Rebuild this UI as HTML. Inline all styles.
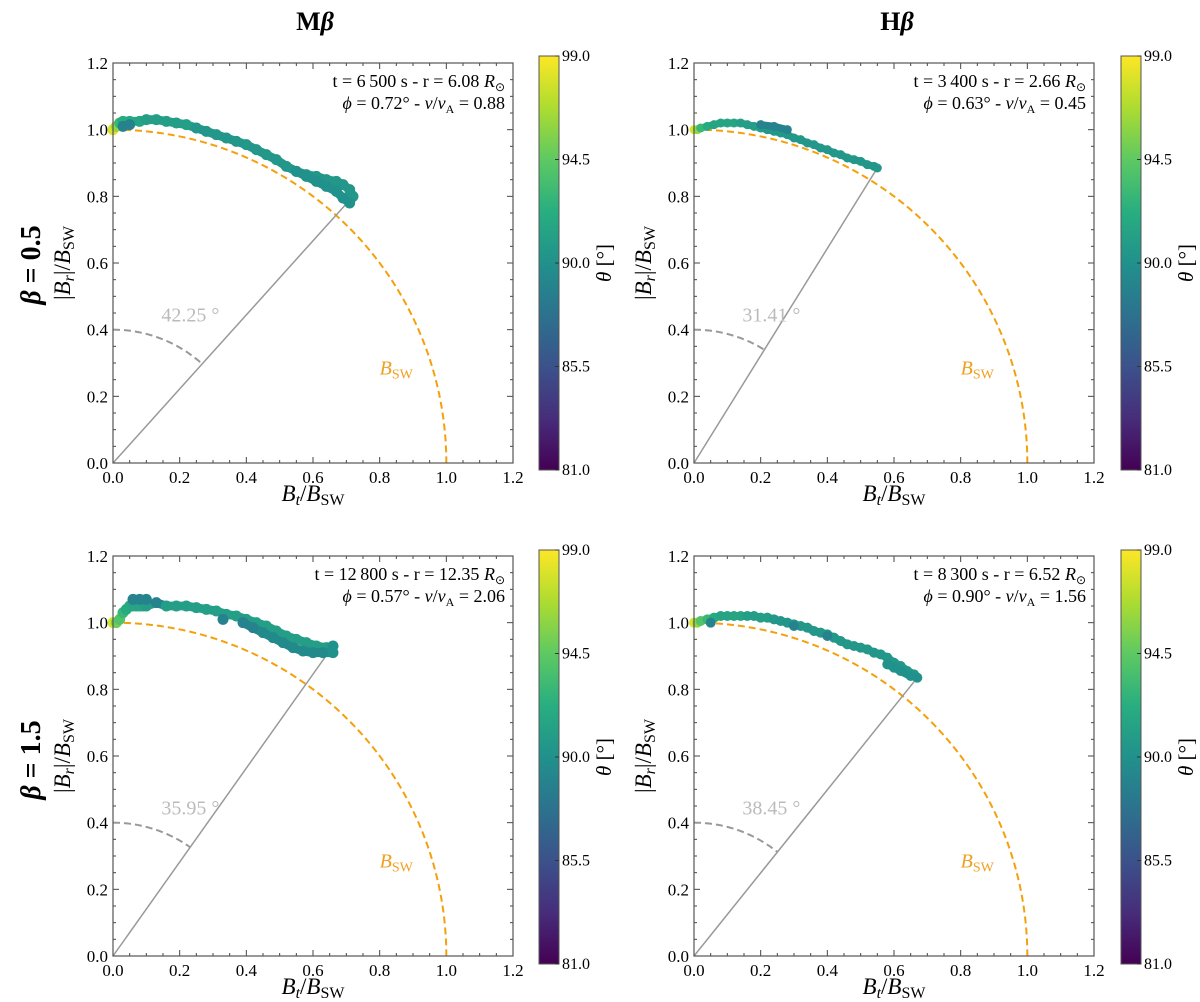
<!DOCTYPE html>
<html><head><meta charset="utf-8">
<style>
html,body{margin:0;padding:0;background:#fff;}
svg{display:block;font-family:"Liberation Serif",serif;}
</style></head>
<body>
<svg id="fig" width="1200" height="1002" viewBox="0 0 1200 1002">
<defs>
<linearGradient id="viridis" x1="0" y1="1" x2="0" y2="0">
<stop offset="0" stop-color="#440154"/><stop offset="0.125" stop-color="#472d7b"/>
<stop offset="0.25" stop-color="#3b528b"/><stop offset="0.375" stop-color="#2c728e"/>
<stop offset="0.5" stop-color="#21918c"/><stop offset="0.625" stop-color="#28ae80"/>
<stop offset="0.75" stop-color="#5ec962"/><stop offset="0.875" stop-color="#addc30"/>
<stop offset="1" stop-color="#fde725"/>
</linearGradient>
</defs>
<text x="315" y="30" text-anchor="middle" font-size="26" font-weight="bold">M<tspan font-style="italic">β</tspan></text>
<text x="897" y="30" text-anchor="middle" font-size="26" font-weight="bold">H<tspan font-style="italic">β</tspan></text>
<text transform="translate(40,265) rotate(-90)" text-anchor="middle" font-size="28" font-weight="bold"><tspan font-style="italic">β</tspan> = 0.5</text>
<text transform="translate(40,760) rotate(-90)" text-anchor="middle" font-size="28" font-weight="bold"><tspan font-style="italic">β</tspan> = 1.5</text>
</svg>
<script>
// Panel data (Bt/BSW, |Br|/BSW, theta)
const p1_bt=[0,0.01,0.02,0.03,0.05,0.08,0.1,0.13,0.16,0.19,0.22,0.25,0.28,0.31,0.34,0.37,0.4,0.43,0.46,0.49,0.52,0.55,0.58,0.61,0.64,0.67,0.69,0.71,0.72,0.71,0.69,0.67,0.64,0.61,0.58,0.55,0.03,0.05];
const p1_br=[1.0,1.01,1.02,1.025,1.025,1.025,1.03,1.03,1.025,1.02,1.015,1.005,0.995,0.985,0.975,0.965,0.955,0.94,0.925,0.91,0.89,0.875,0.865,0.86,0.85,0.845,0.835,0.82,0.8,0.78,0.795,0.815,0.83,0.845,0.86,0.875,1.01,1.015];
const p1_th=[98,96,93,92,92,91.5,91,91,91,91,91,90.5,90.5,90.5,90.5,90.5,90.5,90.5,90.5,90.5,90.5,90.5,90.5,90.5,90.5,90.5,90.5,90.5,90.5,90,90,90,90,90,90,90,89,89];
const p2_bt=[0,0.01,0.02,0.04,0.06,0.08,0.1,0.12,0.14,0.16,0.18,0.2,0.22,0.24,0.26,0.28,0.3,0.32,0.34,0.36,0.38,0.4,0.42,0.44,0.46,0.48,0.5,0.52,0.54,0.55,0.2,0.24,0.28];
const p2_br=[1.0,1.0,1.005,1.01,1.015,1.02,1.02,1.02,1.02,1.015,1.01,1.005,1.0,0.995,0.99,0.985,0.975,0.97,0.96,0.955,0.945,0.94,0.93,0.925,0.915,0.91,0.905,0.895,0.89,0.885,1.015,1.01,1.0];
const p2_th=[98,96,93,92,91.5,91.5,91.5,91.5,91,91,91,91,90.5,90.5,90.5,90.5,90.5,90.5,90.5,90.5,90.5,90.5,90.5,90.5,90.5,90.5,90.5,90.5,90.5,90.5,89,89,89];
const p3_bt=[0,0.01,0.02,0.03,0.04,0.05,0.06,0.07,0.08,0.09,0.1,0.13,0.16,0.19,0.22,0.25,0.28,0.31,0.34,0.37,0.4,0.43,0.46,0.49,0.52,0.55,0.58,0.61,0.64,0.66,0.66,0.63,0.6,0.57,0.54,0.51,0.48,0.45,0.42,0.39,0.33,0.06,0.08,0.1];
const p3_br=[1.0,1.0,1.01,1.03,1.04,1.05,1.05,1.05,1.05,1.05,1.05,1.06,1.05,1.05,1.05,1.045,1.04,1.035,1.025,1.02,1.01,1.0,0.99,0.975,0.96,0.95,0.94,0.93,0.925,0.93,0.91,0.91,0.91,0.915,0.925,0.94,0.955,0.97,0.985,1.0,1.01,1.07,1.07,1.07];
const p3_th=[98,95,94,93,92,92,91.5,91.5,91.5,91.5,91,89,91,91,91,91,91,91,91,91,91,91,91,91,91,91,91,91,91,90,90,89.5,89.5,89.5,89.5,89.5,89.5,89.5,89,89,89,89,89,89];
const p4_bt=[0,0.01,0.02,0.04,0.06,0.08,0.1,0.12,0.14,0.16,0.18,0.2,0.22,0.24,0.26,0.28,0.3,0.32,0.34,0.36,0.38,0.4,0.42,0.44,0.46,0.48,0.5,0.52,0.54,0.56,0.58,0.6,0.62,0.64,0.66,0.67,0.65,0.62,0.6,0.58,0.05,0.3,0.4];
const p4_br=[1.0,1.0,1.005,1.01,1.015,1.02,1.02,1.02,1.02,1.02,1.02,1.015,1.015,1.01,1.005,1.0,0.995,0.99,0.985,0.975,0.97,0.965,0.955,0.945,0.935,0.93,0.925,0.92,0.91,0.905,0.895,0.88,0.87,0.855,0.845,0.835,0.84,0.855,0.865,0.875,1.0,0.99,0.96];
const p4_th=[98,96,94,93,92,91.5,91.5,91.5,91.5,91,91,91,91,90.5,90.5,90.5,90.5,90.5,90.5,90.5,90.5,90.5,90.5,90.5,90.5,90.5,90.5,90.5,90.5,90.5,90.5,90.5,90.5,90.5,90.5,90,90,90,90,90,89,89,89];
const panelLabels=[
 ["t = 6\u2009500 s - r = 6.08 ","0.72","0.88","42.25 °"],
 ["t = 3\u2009400 s - r = 2.66 ","0.63","0.45","31.41 °"],
 ["t = 12\u2009800 s - r = 12.35 ","0.57","2.06","35.95 °"],
 ["t = 8\u2009300 s - r = 6.52 ","0.90","1.56","38.45 °"]];
const ticks=[0,0.2,0.4,0.6,0.8,1.0,1.2];
const cbTicks=[81.0,85.5,90.0,94.5,99.0];

const NS="http://www.w3.org/2000/svg";
const svg=document.getElementById('fig');
function el(tag,attrs,parent){const e=document.createElementNS(NS,tag);for(const k in attrs)e.setAttribute(k,attrs[k]);(parent||svg).appendChild(e);return e;}
const vir=["#440154","#472d7b","#3b528b","#2c728e","#21918c","#28ae80","#5ec962","#addc30","#fde725"];
function hex(c){return [1,3,5].map(i=>parseInt(c.substr(i,2),16));}
function cmap(t){let f=(t-81)/18;f=Math.max(0,Math.min(1,f))*8;const i=Math.min(7,Math.floor(f)),r=f-i;const a=hex(vir[i]),b=hex(vir[i+1]);return "rgb("+a.map((v,k)=>Math.round(v+(b[k]-v)*r)).join(",")+")";}

const panels=[
 {L:113,T:63,bt:p1_bt,br:p1_br,th:p1_th,cx:539,cy:56,ch:414,r:5.5,name:"m-beta-0.5"},
 {L:694,T:63,bt:p2_bt,br:p2_br,th:p2_th,cx:1121,cy:56,ch:414,r:4.5,name:"h-beta-0.5"},
 {L:113,T:556,bt:p3_bt,br:p3_br,th:p3_th,cx:539,cy:550,ch:414,r:5.5,name:"m-beta-1.5"},
 {L:694,T:556,bt:p4_bt,br:p4_br,th:p4_th,cx:1121,cy:550,ch:414,r:5,name:"h-beta-1.5"}];
const W=400;
panels.forEach((p,pi)=>{
 const g=el('g',{});
 
 
 const X=v=>p.L+v/1.2*W, Y=v=>p.T+W-v/1.2*W;
 for(let v=0;v<=1.2001;v+=0.05){
  const major=Math.abs(v/0.2-Math.round(v/0.2))<1e-6, len=major?6:3;
  el('line',{x1:X(v),y1:p.T+W,x2:X(v),y2:p.T+W-len,stroke:"#444","stroke-width":1},g);
  el('line',{x1:X(v),y1:p.T,x2:X(v),y2:p.T+len,stroke:"#444","stroke-width":1},g);
  el('line',{x1:p.L,y1:Y(v),x2:p.L+len,y2:Y(v),stroke:"#444","stroke-width":1},g);
  el('line',{x1:p.L+W,y1:Y(v),x2:p.L+W-len,y2:Y(v),stroke:"#444","stroke-width":1},g);
 }
 ticks.forEach(v=>{
  const tx=el('text',{x:X(v),y:p.T+W+20,"text-anchor":"middle","font-size":17},g);tx.textContent=v.toFixed(1);
  
  
  const ty=el('text',{x:p.L-5,y:Y(v)+6,"text-anchor":"end","font-size":17},g);ty.textContent=v.toFixed(1);
  
  
 });
 const xl=el('text',{x:p.L+200,y:p.T+W+38,"text-anchor":"middle","font-size":23},g);
 xl.innerHTML='<tspan font-style="italic">B<tspan font-size="16" dy="4">t</tspan></tspan><tspan dy="-4">/</tspan><tspan font-style="italic">B</tspan><tspan font-size="16" dy="4">SW</tspan>';
 
 
 const yl=el('text',{transform:`translate(${p.L-43},${p.T+200}) rotate(-90)`,"text-anchor":"middle","font-size":23},g);
 yl.innerHTML='|<tspan font-style="italic">B<tspan font-size="16" dy="4">r</tspan></tspan><tspan dy="-4">|/</tspan><tspan font-style="italic">B</tspan><tspan font-size="16" dy="4">SW</tspan>';
 
 
 let d="";for(let a=0;a<=90;a+=1){const rad=a*Math.PI/180;d+=(a?"L":"M")+X(Math.sin(rad))+","+Y(Math.cos(rad));}
 const c=el('path',{d:d,fill:"none",stroke:"#f5a00a","stroke-width":2,"stroke-dasharray":"7,4"},g);
 
 
 const bl=el('text',{x:X(0.8),y:Y(0.265),"font-size":20,fill:"#f0a020"},g);
 bl.innerHTML='<tspan font-style="italic">B</tspan><tspan font-size="14" dy="4">SW</tspan>';
 
 
 const n=p.bt.length;let ei=0;p.bt.forEach((v,i)=>{if(v>p.bt[ei])ei=i;});
 const ex=p.bt[ei],ey=p.br[ei];const ang=Math.atan2(ex,ey);
 const ln=el('line',{x1:X(0),y1:Y(0),x2:X(ex),y2:Y(ey),stroke:"#999","stroke-width":1.5},g);
 
 
 let d2="";for(let k=0;k<=30;k++){const a=ang*k/30;d2+=(k?"L":"M")+X(0.4*Math.sin(a))+","+Y(0.4*Math.cos(a));}
 const arc=el('path',{d:d2,fill:"none",stroke:"#999","stroke-width":2,"stroke-dasharray":"7,4"},g);
 
 
 const al=el('text',{x:X(0.145),y:Y(0.425),"font-size":20,fill:"#bbb"},g);al.textContent=panelLabels[pi][3];
 
 
 for(let i=0;i<n;i++){
  const pt=el('circle',{cx:X(p.bt[i]),cy:Y(p.br[i]),r:p.r,fill:cmap(p.th[i])},g);
  
  
  if(i<n-1&&Math.hypot(p.bt[i+1]-p.bt[i],p.br[i+1]-p.br[i])<0.06){
   const seg=el('line',{x1:X(p.bt[i]),y1:Y(p.br[i]),x2:X(p.bt[i+1]),y2:Y(p.br[i+1]),stroke:cmap(p.th[i]),"stroke-width":p.r*1.6,"stroke-linecap":"round"},g);
   
   
  }
 }
 el('rect',{x:p.L,y:p.T,width:W,height:W,fill:"none",stroke:"#555","stroke-width":1.2},g);
 const a1=el('text',{x:p.L+W-8,y:p.T+24,"text-anchor":"end","font-size":18},g);
 a1.innerHTML=panelLabels[pi][0]+'<tspan font-style="italic">R</tspan><tspan font-size="12" dy="4">⊙</tspan>';
 
 
 const a2=el('text',{x:p.L+W-8,y:p.T+46,"text-anchor":"end","font-size":18},g);
 a2.innerHTML='<tspan font-style="italic">ϕ</tspan> = '+panelLabels[pi][1]+'° - <tspan font-style="italic">v</tspan>/<tspan font-style="italic">v</tspan><tspan font-size="12" dy="4">A</tspan><tspan dy="-4"> = '+panelLabels[pi][2]+'</tspan>';
 
 
 const cb=el('rect',{x:p.cx,y:p.cy,width:20,height:p.ch,fill:"url(#viridis)",stroke:"#555","stroke-width":1},g);
 
 
 cbTicks.forEach(t=>{
  const yy=p.cy+p.ch-(t-81)/18*p.ch;
  el('line',{x1:p.cx+20,y1:yy,x2:p.cx+16,y2:yy,stroke:"#333"},g);
  const tt=el('text',{x:p.cx+23,y:yy+5,"font-size":16},g);tt.textContent=t.toFixed(1);
  
  
 });
 const ct=el('text',{transform:`translate(${p.cx+72},${p.cy+p.ch/2}) rotate(-90)`,"text-anchor":"middle","font-size":21},g);
 ct.innerHTML='<tspan font-style="italic">θ</tspan> [°]';
 
 
});
</script>
</body></html>
